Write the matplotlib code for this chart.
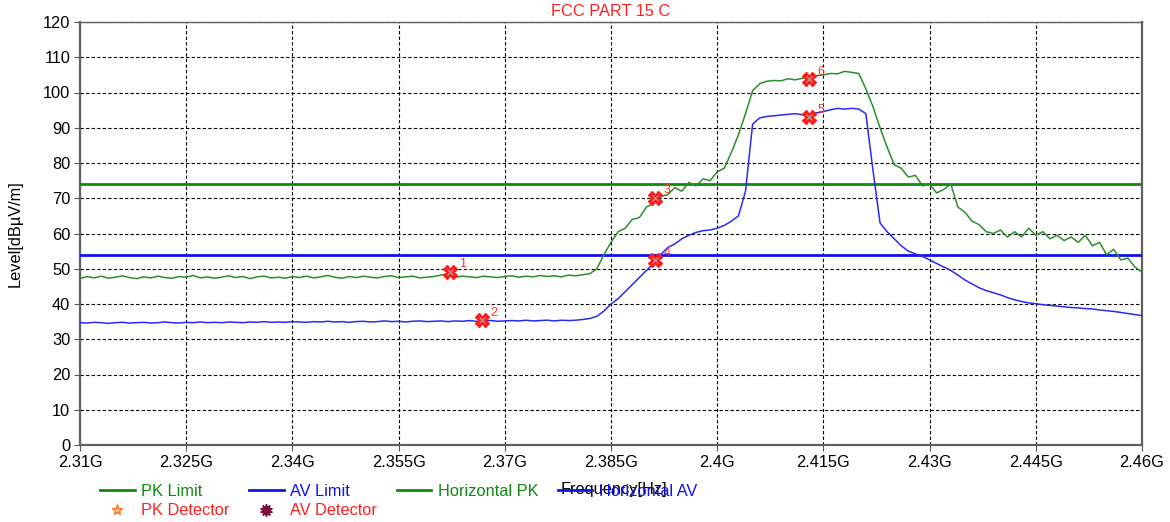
import matplotlib
matplotlib.use("Agg")
import matplotlib.pyplot as plt
import numpy as np
from matplotlib.lines import Line2D

# sweep points, 1 MHz apart
freq_ghz = np.linspace(2.31, 2.46, 151)

horizontal_pk = [
    47.2, 47.8, 47.4, 47.9, 47.3, 47.6, 48.0, 47.5, 47.2, 47.7,
    47.4, 47.9, 47.5, 47.3, 47.8, 47.6, 48.1, 47.4, 47.7, 47.3,
    47.6, 48.0, 47.5, 47.8, 47.2, 47.7, 47.9, 47.4, 47.6, 47.3,
    47.8, 47.5, 47.9, 47.4, 47.7, 48.1, 47.6, 47.3, 47.8, 47.5,
    47.9, 47.6, 47.4, 47.8, 48.0, 47.5, 47.7, 47.9, 47.4, 47.6,
    47.8, 48.2, 48.6, 47.6, 47.9, 47.7, 47.5, 47.9, 47.7, 47.5,
    47.8, 48.0, 47.6, 47.9, 47.7, 48.1, 47.8, 48.0, 47.7, 48.2,
    48.0, 48.3, 48.6, 50.0, 54.0, 57.5, 60.5, 61.5, 64.0, 64.5,
    67.5, 68.5, 70.5, 71.0, 73.0, 72.0, 74.5, 73.5, 75.5, 75.0,
    77.5, 78.5, 83.0, 88.0, 94.0, 100.5, 102.5, 103.2, 103.4, 103.3,
    103.9, 103.6, 104.0, 104.2, 104.8, 105.0, 105.4, 105.3, 106.0, 105.7,
    105.4, 101.0, 96.0, 90.0, 84.5, 79.5, 78.5, 76.0, 76.5, 73.5,
    74.0, 71.5, 72.5, 74.0, 67.5, 66.0, 63.5, 62.5, 60.5, 60.0,
    61.0, 59.0, 60.5, 59.0, 61.5, 59.5, 60.5, 58.5, 59.5, 58.0,
    59.0, 57.5, 59.5, 56.5, 57.5, 54.0, 55.5, 52.5, 53.0, 50.5,
    49.0,
]

horizontal_av = [
    34.7, 34.6, 34.8, 34.7, 34.5, 34.7, 34.8, 34.6, 34.7, 34.8,
    34.6, 34.7, 34.9, 34.7, 34.6, 34.8, 34.7, 34.9, 34.7, 34.8,
    34.7, 34.9, 34.8, 34.7, 34.9, 34.8, 35.0, 34.8, 34.9, 34.8,
    35.0, 34.9, 34.8, 35.0, 34.9, 35.1, 34.9, 35.0, 34.8, 35.0,
    35.1, 34.9, 35.0, 35.2, 35.0, 35.1, 34.9, 35.1, 35.2, 35.0,
    35.1, 35.2, 35.0, 35.2, 35.1, 35.3, 35.1, 35.2, 35.3, 35.1,
    35.2, 35.3, 35.2, 35.4, 35.2, 35.3, 35.4, 35.2, 35.4, 35.3,
    35.4, 35.6, 35.9, 36.5, 38.0, 40.0, 41.5, 43.5, 45.5, 47.5,
    49.5, 51.5, 54.0, 56.0, 57.0, 58.5, 59.5, 60.3, 60.8, 61.0,
    61.5, 62.3, 63.5, 65.0, 72.0, 91.0, 92.8, 93.2, 93.4, 93.6,
    93.8, 94.0, 93.7, 93.9, 94.2, 94.6, 95.1, 95.5, 95.3, 95.5,
    95.3, 94.0, 78.0, 63.0, 60.5, 58.5, 56.5, 55.0, 54.2, 53.5,
    52.5, 51.5, 50.5, 49.5, 48.2, 46.8, 45.7, 44.6, 43.8, 43.2,
    42.6, 41.8, 41.2, 40.7, 40.3, 40.1, 39.8, 39.6, 39.4, 39.2,
    39.0, 38.9, 38.7, 38.6, 38.3, 38.1, 37.9, 37.6, 37.3, 37.0,
    36.7,
]

pk_limit = 74
av_limit = 54

marker_ids = ["1", "2", "3", "4", "5", "6"]
marker_freq = [2.3623, 2.3668, 2.3912, 2.3912, 2.4130, 2.4130]
marker_level = [49.2, 35.4, 70.2, 52.5, 93.0, 103.7]

x_ticks = [2.31, 2.325, 2.34, 2.355, 2.37, 2.385, 2.4, 2.415, 2.43, 2.445, 2.46]
x_tick_labels = ["2.31G", "2.325G", "2.34G", "2.355G", "2.37G", "2.385G",
                 "2.4G", "2.415G", "2.43G", "2.445G", "2.46G"]

plt.rcParams["font.family"] = ["Liberation Sans", "DejaVu Sans"]
fs = 11.8

fig = plt.figure(figsize=(11.7, 5.22), dpi=100)
ax = fig.add_axes([80 / 1170, 77 / 522, 1062 / 1170, 423 / 522])

green = "#0f8a0f"
blue = "#1010f0"

ax.axhline(pk_limit, color=green, lw=2, zorder=3)
ax.axhline(av_limit, color=blue, lw=2, zorder=3)
ax.plot(freq_ghz, horizontal_pk, color="#2a8f2a", lw=1.1, zorder=4)
ax.plot(freq_ghz, horizontal_av, color="#2a2af5", lw=1.1, zorder=4)

ax.plot(marker_freq, marker_level, ls="none", marker="X", ms=10,
        mfc="#ff1a1a", mec="#ff1a1a", zorder=6)
ax.plot(marker_freq, marker_level, ls="none", marker="x", ms=5,
        mec="#c8a0a0", mew=0.8, zorder=7)
for label, f, lv in zip(marker_ids, marker_freq, marker_level):
    ax.annotate(label, (f, lv), xytext=(6, 3), textcoords="offset points",
                color="#ff3030", fontsize=9, zorder=8)

ax.set_xlim(2.31, 2.46)
ax.set_ylim(0, 120)
ax.set_xticks(x_ticks)
ax.set_xticklabels(x_tick_labels)
ax.set_yticks(range(0, 121, 10))
ax.tick_params(labelsize=fs, length=4, color="#555555", pad=3)
ax.grid(True, color="black", ls=(0, (3, 2)), lw=0.8)
for side in ["left", "bottom", "right"]:
    ax.spines[side].set_color("#606060")
    ax.spines[side].set_linewidth(1.6)
ax.spines["top"].set_color("#606060")
ax.spines["top"].set_linewidth(1.0)

ax.set_title("FCC PART 15 C", color="#ff2020", fontsize=fs, pad=4)
ax.set_ylabel("Level[dBµV/m]", fontsize=fs)
ax.yaxis.set_label_coords(-0.054, 0.5)
ax.set_xlabel("Frequency[Hz]", fontsize=fs)
ax.xaxis.set_label_coords(0.503, -0.106)
ax.xaxis.label.set_verticalalignment("center")

handles = [
    Line2D([], [], color=green, lw=2),
    Line2D([], [], ls="none", marker="*", ms=8, mfc="#ffd0a0", mec="#ff7020"),
    Line2D([], [], color=blue, lw=2),
    Line2D([], [], ls="none", marker=(10, 1, 0), ms=9, color="#7a0a40"),
    Line2D([], [], color=green, lw=2),
    Line2D([], [], color=blue, lw=2),
]
labels = ["PK Limit", "PK Detector", "AV Limit", "AV Detector",
          "Horizontal PK", "Horizontal AV"]
label_colors = [green, "#ff2020", blue, "#ff2020", green, blue]
fig.legend(handles, labels, ncol=4, loc="upper left",
           bbox_to_anchor=(92 / 1170, 1 - 476 / 522), frameon=False,
           fontsize=fs, handlelength=2.1, handletextpad=0.4,
           columnspacing=1.2, labelspacing=0.25, borderpad=0,
           labelcolor=label_colors)

fig.savefig("out.png", dpi=100)
